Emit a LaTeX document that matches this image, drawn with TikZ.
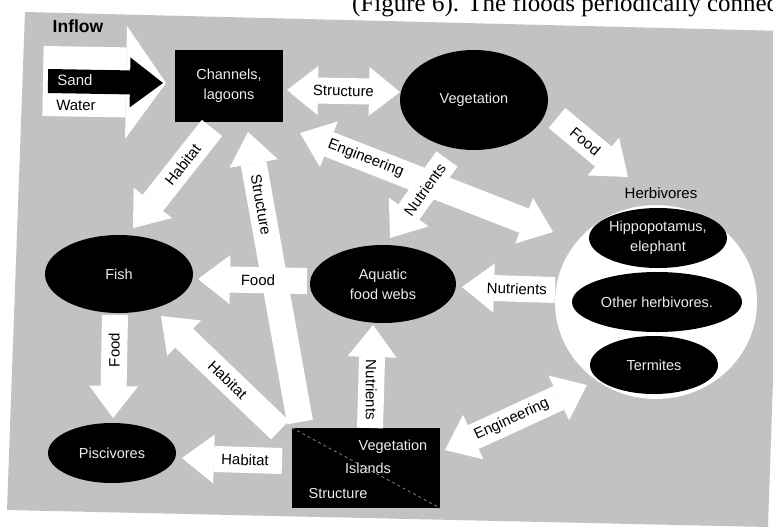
\documentclass[tikz,border=0pt]{standalone}
\usepackage{fontspec}
\setmainfont{Liberation Sans}
\newfontfamily\pagefont{Liberation Serif}
\usetikzlibrary{shapes.geometric}
\usetikzlibrary{arrows.meta}

\definecolor{panelgray}{gray}{0.76}
\definecolor{softwhite}{gray}{0.92}

\newcommand{\lblfont}{\fontsize{15}{18}\selectfont}
\newcommand{\blobfont}{\fontsize{14.5}{20}\selectfont}

\begin{document}
\begin{tikzpicture}[x=1pt, y=-1pt,
    blob/.style={ellipse, fill=black, text=softwhite, font=\blobfont, align=center, inner sep=0pt},
    box/.style={rectangle, fill=black, text=softwhite, font=\blobfont, align=center, inner sep=0pt},
    flow/.style={draw=white, line width=26pt, -{Triangle[width=49pt,length=32pt,line width=0pt]}},
    flowboth/.style={draw=white, line width=26pt,
        {Triangle[width=49pt,length=31pt,line width=0pt]}-{Triangle[width=49pt,length=31pt,line width=0pt]}},
    lbl/.style={font=\lblfont, text=black, inner sep=0pt, sloped}]
    \useasboundingbox (0,0) rectangle (773,531);
    \clip (0,0) rectangle (773,531);
    \fill[white] (0,0) rectangle (773,531);

    % scanned page
    \fill[panelgray] (25,12) -- (785,31) -- (768,527) -- (7,510) -- cycle;
    \node[anchor=base west, inner sep=0pt, font=\pagefont\fontsize{25}{25}\selectfont]
        (pagetext) at (352,11) {(Figure 6). The floods periodically connected};

    % inflow
    \node[font=\bfseries\fontsize{17.5}{20}\selectfont] (inflow) at (78,26) {Inflow};
    \coordinate (water-a) at (43,81);
    \coordinate (water-b) at (166,83);
    \coordinate (sand-a) at (48,81);
    \coordinate (sand-b) at (163,83);
    \draw[draw=white, line width=70pt, -{Triangle[width=113pt,length=40pt,line width=0pt]}] (water-a) -- (water-b);
    \draw[draw=black, line width=24pt, -{Triangle[width=50pt,length=33pt,line width=0pt]}] (sand-a) -- (sand-b);
    \node[text=softwhite, font=\lblfont] (sand) at (75,80) {Sand};
    \node[font=\lblfont] (water) at (76,105) {Water};

    % compartments
    \node[box, minimum width=108pt, minimum height=72pt] (chan) at (229,86) {Channels,\\lagoons};
    \node[blob, minimum width=148pt, minimum height=100pt] (veg) at (474,100) {Vegetation};
    \node[blob, minimum width=148pt, minimum height=78pt] (fish) at (119,274) {Fish};
    \node[blob, minimum width=146pt, minimum height=78pt] (aqua) at (383,284) {Aquatic\\food webs};
    \node[blob, minimum width=128pt, minimum height=60pt] (pisc) at (112,453) {Piscivores};

    \node[ellipse, fill=white, minimum width=202pt, minimum height=194pt, inner sep=0pt] (herb) at (656,302) {};
    \node[font=\lblfont] (herbname) at (661,193) {Herbivores};
    \node[blob, minimum width=130pt, minimum height=60pt] (hippo) at (658,238) {Hippopotamus,\\elephant};
    \node[blob, minimum width=170pt, minimum height=60pt] (other) at (657,302) {Other herbivores.};
    \node[blob, minimum width=128pt, minimum height=58pt] (term) at (654,365) {Termites};

    \node[box, minimum width=148pt, minimum height=80pt] (isl) at (366,468) {};
    \draw[dashed, gray, thick] (isl.north west) -- (isl.south east);
    \node[text=softwhite, font=\blobfont] (islveg) at (393,447) {Vegetation};
    \node[text=softwhite, font=\blobfont] (islname) at (368,468) {Islands};
    \node[text=softwhite, font=\blobfont] (islstruct) at (338,493) {Structure};

    % arrow ends
    \coordinate (chan-veg) at (287,90);
    \coordinate (veg-chan) at (400,92);
    \coordinate (veg-food) at (557,118);
    \coordinate (herb-food) at (628,177);
    \coordinate (chan-eng) at (300,133);
    \coordinate (herb-eng) at (553,232);
    \coordinate (veg-nut) at (447,159);
    \coordinate (aqua-nut) at (390,238);
    \coordinate (chan-hab) at (212,128);
    \coordinate (fish-hab) at (133,228);
    \coordinate (isl-struct) at (300,422);
    \coordinate (chan-struct) at (248,132);
    \coordinate (aqua-food) at (307,281);
    \coordinate (fish-food) at (198,279);
    \coordinate (herb-nut) at (555,290);
    \coordinate (aqua-nut2) at (462,287);
    \coordinate (fish-down) at (115,315);
    \coordinate (pisc-up) at (113,418);
    \coordinate (isl-pisc) at (282,461);
    \coordinate (pisc-hab) at (182,458);
    \coordinate (isl-fish) at (280,430);
    \coordinate (fish-hab2) at (161,316);
    \coordinate (isl-nut) at (370,428);
    \coordinate (aqua-up) at (373,325);
    \coordinate (isl-eng) at (445,450);
    \coordinate (term-eng) at (587,385);

    % connectors
    \draw[flowboth] (chan-veg) -- (veg-chan) node[lbl, midway] {Structure};
    \draw[flow] (veg-food) -- (herb-food) node[lbl, pos=0.4] {Food};
    \draw[flowboth] (chan-eng) -- (herb-eng) node[lbl, pos=0.26] {Engineering};
    \draw[flow] (veg-nut) -- (aqua-nut) node[lbl, pos=0.39] {Nutrients};
    \draw[flow] (chan-hab) -- (fish-hab) node[lbl, pos=0.37] {Habitat};
    \draw[flow] (isl-struct) -- (chan-struct) node[lbl, pos=0.75] {Structure};
    \draw[flow] (aqua-food) -- (fish-food) node[lbl, pos=0.45] {Food};
    \draw[flow] (herb-nut) -- (aqua-nut2) node[lbl, pos=0.41] {Nutrients};
    \draw[flow] (fish-down) -- (pisc-up) node[lbl, sloped=false, rotate=90, pos=0.34] {Food};
    \draw[flow] (isl-pisc) -- (pisc-hab) node[lbl, pos=0.37] {Habitat};
    \draw[flow] (isl-fish) -- (fish-hab2) node[lbl, pos=0.44] {Habitat};
    \draw[flow] (isl-nut) -- (aqua-up) node[lbl, sloped=false, rotate=-90, pos=0.37] {Nutrients};
    \draw[flowboth] (isl-eng) -- (term-eng) node[lbl, pos=0.47] {Engineering};
\end{tikzpicture}
\end{document}
